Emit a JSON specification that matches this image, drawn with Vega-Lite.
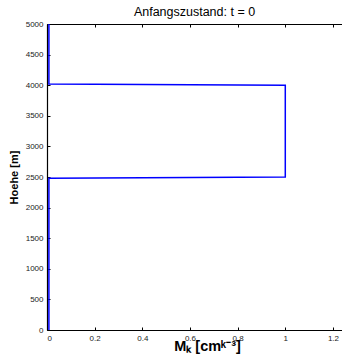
{
  "$schema": "https://vega.github.io/schema/vega-lite/v6.json",
  "autosize": "none",
  "width": 295,
  "height": 306,
  "padding": {"left": 47, "top": 24, "right": 0, "bottom": 29},
  "background": "white",
  "config": {
    "font": "Liberation Sans",
    "view": {"stroke": null},
    "axis": {"grid": false, "labelOverlap": false, "domainColor": "black", "tickColor": "black", "labelColor": "#222", "labelFont": "Liberation Sans", "labelFontSize": 8, "titleFont": "Liberation Sans", "titleColor": "black", "domainWidth": 1.2}
  },
  "title": {"text": "Anfangszustand: t = 0", "fontSize": 12.5, "fontWeight": "normal", "font": "Liberation Sans", "color": "black", "offset": 2},
  "data": {"values": [
    {"i": 0, "m": 0.008, "h": 0},
    {"i": 1, "m": 0.008, "h": 2480},
    {"i": 2, "m": 1.0, "h": 2500},
    {"i": 3, "m": 1.0, "h": 4000},
    {"i": 4, "m": 0.008, "h": 4020},
    {"i": 5, "m": 0.008, "h": 5000}
  ]},
  "encoding": {
    "y": {"field": "h", "type": "quantitative", "scale": {"domain": [0, 5000], "nice": false},
      "axis": {"values": [0, 500, 1000, 1500, 2000, 2500, 3000, 3500, 4000, 4500, 5000], "format": "d", "tickSize": -3, "labelPadding": 7, "title": "Hoehe [m]", "titleFontSize": 11, "titleFontWeight": "bold", "titlePadding": 6}}
  },
  "layer": [
    {
      "mark": {"type": "line", "color": "#0000ff", "strokeWidth": 1.5, "clip": true},
      "encoding": {
        "x": {"field": "m", "type": "quantitative", "scale": {"domain": [0, 1.238], "nice": false},
          "axis": {"values": [0, 0.2, 0.4, 0.6, 0.8, 1, 1.2], "labelExpr": "datum.value == 0 ? '0' : format(datum.value, '.1~f')", "tickSize": -3, "labelPadding": 7, "title": "Mₖ [cmᵏ⁻³]", "titleFontSize": 14.5, "titleFontWeight": "bold", "titlePadding": -3, "titleX": 160, "titleAlign": "center"}},
        "order": {"field": "i", "type": "quantitative"}
      }
    },
    {
      "mark": {"type": "line", "opacity": 0},
      "encoding": {
        "x": {"field": "m", "type": "quantitative", "axis": {"orient": "top", "domain": true, "domainColor": "black", "domainWidth": 1.2, "ticks": true, "values": [0, 0.2, 0.4, 0.6, 0.8, 1, 1.2], "labels": false, "tickSize": -3, "title": null}},
        "order": {"field": "i", "type": "quantitative"}
      }
    }
  ],
  "resolve": {"axis": {"x": "independent"}, "scale": {"x": "shared"}}
}
